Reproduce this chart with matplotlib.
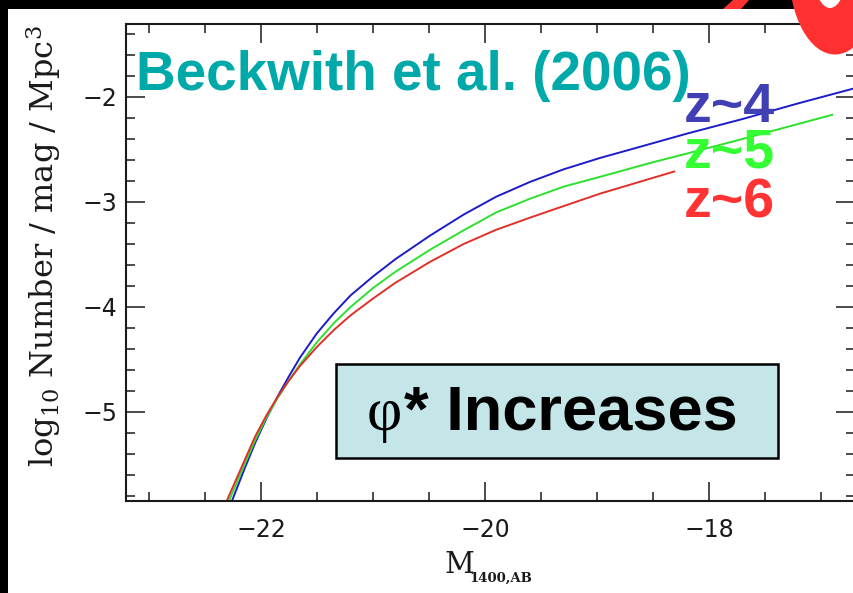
import matplotlib
matplotlib.use("Agg")
import matplotlib.pyplot as plt
from matplotlib.patches import Rectangle, Ellipse, Polygon
from matplotlib.ticker import MultipleLocator

# luminosity function curves, read as (magnitude, log10 number density)
mag_z4 = [-22.259, -22.15, -22.05, -21.95, -21.85, -21.75, -21.65, -21.50, -21.35,
          -21.20, -21.00, -20.80, -20.49, -20.19, -19.90, -19.60, -19.30, -18.97,
          -18.70, -18.20, -17.70, -17.20, -16.71]
logn_z4 = [-5.848, -5.55, -5.29, -5.06, -4.85, -4.66, -4.48, -4.25, -4.06,
           -3.89, -3.71, -3.545, -3.32, -3.12, -2.95, -2.81, -2.69, -2.58,
           -2.50, -2.35, -2.21, -2.06, -1.92]

mag_z5 = [-22.286, -22.15, -22.05, -21.95, -21.85, -21.75, -21.65, -21.50, -21.35,
          -21.20, -21.00, -20.80, -20.49, -20.19, -19.90, -19.60, -19.30, -18.97,
          -18.53, -18.20, -17.70, -17.30, -16.90]
logn_z5 = [-5.848, -5.51, -5.265, -5.05, -4.865, -4.70, -4.545, -4.335, -4.155,
           -4.00, -3.82, -3.665, -3.455, -3.27, -3.10, -2.97, -2.855, -2.76,
           -2.63, -2.54, -2.40, -2.285, -2.17]

mag_z6 = [-22.306, -22.15, -22.05, -21.95, -21.85, -21.75, -21.65, -21.50, -21.35,
          -21.20, -21.00, -20.80, -20.49, -20.19, -19.90, -19.60, -19.30, -18.97,
          -18.53, -18.31]
logn_z6 = [-5.848, -5.47, -5.23, -5.03, -4.855, -4.70, -4.56, -4.38, -4.22,
           -4.08, -3.92, -3.77, -3.57, -3.40, -3.265, -3.15, -3.04, -2.92,
           -2.78, -2.71]

x_ticks = [-22, -20, -18]
y_ticks = [-2, -3, -4, -5]

W, H = 854, 593


def fx(px):
    return px / W


def fy(py):
    return 1 - py / H


fig = plt.figure(figsize=(W / 100, H / 100), dpi=100, facecolor="black")

# white slide area inside the black border
bg = fig.add_axes([0, 0, 1, 1], zorder=0)
bg.set_xlim(0, W)
bg.set_ylim(H, 0)
bg.axis("off")
bg.add_patch(Rectangle((8, 9), W, H, facecolor="white", edgecolor="none"))

ax = fig.add_axes([fx(126), fy(501), fx(855) - fx(126), fy(24) - fy(501)], zorder=1)
ax.set_facecolor("none")
ax.plot(mag_z4, logn_z4, color="#1c1cc8", lw=1.4)
ax.plot(mag_z5, logn_z5, color="#2ee02e", lw=1.4)
ax.plot(mag_z6, logn_z6, color="#e0302a", lw=1.4)

ax.set_xlim(-23.205, -16.696)
ax.set_ylim(-5.848, -1.305)
ax.set_xticks(x_ticks)
ax.set_yticks(y_ticks)
ax.set_xticklabels(["\u2212%d" % abs(v) for v in x_ticks])
ax.set_yticklabels(["\u2212%d" % abs(v) for v in y_ticks])
ax.xaxis.set_minor_locator(MultipleLocator(0.5))
ax.yaxis.set_minor_locator(MultipleLocator(0.2))
ax.tick_params(which="both", direction="in", top=True, right=True, width=1.1,
               colors="#1a1a1a", labelcolor="#1a1a1a")
ax.tick_params(which="major", length=13.5)
ax.tick_params(which="minor", length=6.5)
ax.tick_params(axis="x", which="major", pad=12, labelsize=17)
ax.tick_params(axis="y", which="major", pad=6, labelsize=17)
for lab in ax.get_xticklabels() + ax.get_yticklabels():
    lab.set_family("DejaVu Sans")
for s in ax.spines.values():
    s.set_linewidth(1.5)
    s.set_color("#1a1a1a")

plt.rcParams["mathtext.fontset"] = "dejavuserif"
fig.text(fx(44), fy(246), r"log$_{10}$ Number / mag / Mpc$^3$", rotation=90,
         ha="center", va="center", family="DejaVu Serif", fontsize=23, color="#1a1a1a")
fig.text(fx(445), fy(573), "M", ha="left", va="baseline",
         family="DejaVu Serif", fontsize=21, color="#1a1a1a")
fig.text(fx(469), fy(582), "1400,AB", ha="left", va="baseline",
         family="DejaVu Serif", weight="bold", fontsize=9.5, color="#1a1a1a")

# annotations
fig.text(fx(136), fy(90), "Beckwith et al. (2006)", ha="left", va="baseline",
         family="Liberation Sans", weight="bold", fontsize=39.5, color="#00a9a9", zorder=3)
fig.text(fx(684), fy(122), "z~4", ha="left", va="baseline", family="Liberation Sans",
         weight="bold", fontsize=40, color="#4040b4", zorder=3)
fig.text(fx(684), fy(168), "z~5", ha="left", va="baseline", family="Liberation Sans",
         weight="bold", fontsize=40, color="#33ff33", zorder=3)
fig.text(fx(684), fy(217), "z~6", ha="left", va="baseline", family="Liberation Sans",
         weight="bold", fontsize=40, color="#ff3333", zorder=3)

top = fig.add_axes([0, 0, 1, 1], zorder=4)
top.set_xlim(0, W)
top.set_ylim(H, 0)
top.axis("off")
top.patch.set_alpha(0)
top.add_patch(Rectangle((336, 364), 442, 94, facecolor="#c4e6e8", edgecolor="black", lw=1.8))
top.text(367, 430, "\u03c6", ha="left", va="baseline", family="Liberation Serif",
         fontsize=44, color="black")
top.text(404, 430, "* Increases", ha="left", va="baseline", family="Liberation Sans",
         weight="bold", fontsize=45.5, color="black")

# red marker shapes at the top edge
top.add_patch(Ellipse((835, -30), 92, 169, facecolor="#ff3030", edgecolor="none"))
top.add_patch(Ellipse((830, -30), 34, 76, facecolor="white", edgecolor="none"))
top.add_patch(Polygon([(733, 0), (749, 0), (741, 9), (723, 9)], closed=True,
                      facecolor="#ff3030", edgecolor="none"))

fig.savefig("out.png", dpi=100, facecolor="black")
